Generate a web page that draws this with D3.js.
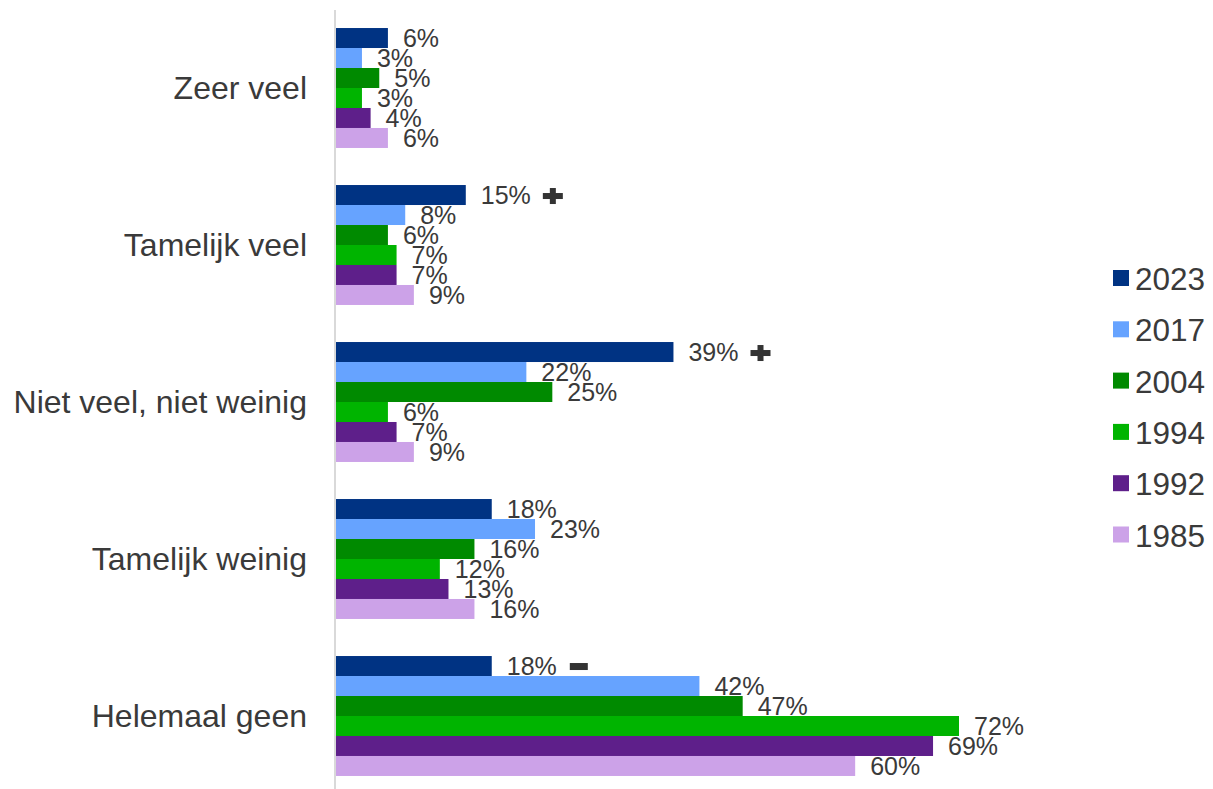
<!DOCTYPE html>
<html>
<head>
<meta charset="utf-8">
<script src="https://cdn.jsdelivr.net/npm/d3@7"></script>
<style>
  body { margin: 0; background: #fff; }
  svg { display: block; font-family: "Liberation Sans", Arial, sans-serif; }
</style>
</head>
<body>
<script>
const categories = ["Zeer veel", "Tamelijk veel", "Niet veel, niet weinig", "Tamelijk weinig", "Helemaal geen"];
const years = ["2023", "2017", "2004", "1994", "1992", "1985"];
const colors = ["#003383", "#66a3ff", "#008a00", "#00b400", "#5e1f8a", "#cca2e8"];

// percentages per category, in the order of years
const values = [
  [6, 3, 5, 3, 4, 6],
  [15, 8, 6, 7, 7, 9],
  [39, 22, 25, 6, 7, 9],
  [18, 23, 16, 12, 13, 16],
  [18, 42, 47, 72, 69, 60]
];
// significance markers on the 2023 bar
const markers = ["", "+", "+", "", "-"];

const width = 1213, height = 789;
const textColor = "#3a3a3a";

const svg = d3.select("body").append("svg")
    .attr("width", width)
    .attr("height", height);

const x = d3.scaleLinear().domain([0, 72]).range([336, 959]);

const y = d3.scaleBand()
    .domain(categories)
    .range([9.5, 794.5])
    .paddingInner(0.236)
    .paddingOuter(0.118);

const yInner = d3.scaleBand()
    .domain(years)
    .range([0, y.bandwidth()]);

const color = d3.scaleOrdinal().domain(years).range(colors);

// axis line
svg.append("line")
    .attr("x1", 335).attr("x2", 335)
    .attr("y1", 10).attr("y2", height)
    .attr("stroke", "#d9d9d9")
    .attr("stroke-width", 2);

const rows = categories.map((c, i) => ({
  cat: c,
  marker: markers[i],
  items: years.map((yr, j) => ({ year: yr, value: values[i][j] }))
}));

const groups = svg.append("g")
  .selectAll("g")
  .data(rows)
  .join("g")
    .attr("transform", d => `translate(0,${y(d.cat)})`);

groups.selectAll("rect")
  .data(d => d.items)
  .join("rect")
    .attr("x", x(0))
    .attr("y", d => yInner(d.year))
    .attr("width", d => x(d.value) - x(0))
    .attr("height", yInner.bandwidth())
    .attr("fill", d => color(d.year));

groups.selectAll("text.val")
  .data(d => d.items)
  .join("text")
    .attr("class", "val")
    .attr("x", d => x(d.value) + 15)
    .attr("y", d => yInner(d.year) + yInner.bandwidth() / 2 + 9)
    .attr("font-size", 25)
    .attr("fill", textColor)
    .text(d => d.value + "%");

// markers after 2023 labels
groups.each(function(d) {
  if (!d.marker) return;
  const g = d3.select(this);
  const lbl = g.select("text.val").node();
  const bb = lbl.getBBox();
  const cx = bb.x + bb.width + 22;
  const cy = yInner(years[0]) + yInner.bandwidth() / 2 + 1;
  const fill = "#333";
  if (d.marker === "+") {
    g.append("rect").attr("x", cx - 10).attr("y", cy - 3).attr("width", 20).attr("height", 6).attr("fill", fill);
    g.append("rect").attr("x", cx - 3).attr("y", cy - 8).attr("width", 6).attr("height", 16).attr("fill", fill);
  } else {
    g.append("rect").attr("x", cx - 9).attr("y", cy - 4).attr("width", 18).attr("height", 7).attr("fill", fill);
  }
});

// category labels
svg.append("g")
  .selectAll("text")
  .data(categories)
  .join("text")
    .attr("x", 307)
    .attr("y", d => y(d) + y.bandwidth() / 2 + 10.5)
    .attr("text-anchor", "end")
    .attr("font-size", 32)
    .attr("fill", textColor)
    .text(d => d);

// legend
const legend = svg.append("g")
  .selectAll("g")
  .data(years)
  .join("g")
    .attr("transform", (d, i) => `translate(1113,${278 + i * 51.3})`);

legend.append("rect")
    .attr("x", 0).attr("y", -8)
    .attr("width", 16).attr("height", 16)
    .attr("fill", d => color(d));

legend.append("text")
    .attr("x", 22)
    .attr("y", 12)
    .attr("font-size", 31.5)
    .attr("fill", textColor)
    .text(d => d);
</script>
</body>
</html>
